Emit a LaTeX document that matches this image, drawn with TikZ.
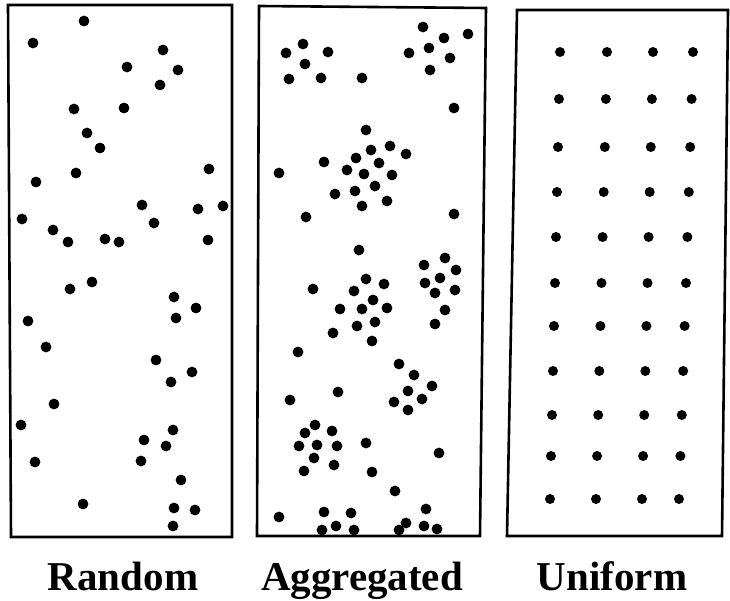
\documentclass[tikz,border=0pt]{standalone}
\usepackage{fontspec}
\setmainfont{Liberation Serif}
\usetikzlibrary{positioning}

\begin{document}
\begin{tikzpicture}[x=1pt,y=-1pt, every node/.style={font=\fontsize{41}{41}\selectfont\bfseries, inner sep=0pt}]
  \useasboundingbox (0,0) rectangle (730,601);

  % panels
  \draw[line width=2.6pt] (8,5) -- (232,5) -- (232,537) -- (11,537) -- cycle;
  \draw[line width=2.6pt] (259,6) -- (486,8) -- (480,536) -- (257,536) -- cycle;
  \draw[line width=2.6pt] (517,10) -- (728,10) -- (722,536) -- (507,536) -- cycle;

  % random
  \foreach \x/\y in {84/21,33/43,163/50,127/67,178/70,160/85,74/109,124/108,87/133,100/148,
    209/169,76/173,36/182,142/205,198/209,223/206,22/219,154/223,53/230,68/242,105/239,119/242,
    208/240,92/282,70/289,174/297,196/308,176/318,28/321,46/347,156/360,192/372,171/382,54/404,
    21/425,173/430,144/440,166/446,35/462,141/461,181/480,83/504,174/508,195/510,173/526}
    \fill (\x,\y) circle[radius=5.4pt];

  % aggregated
  \foreach \x/\y in {423/27,444/38,468/34,303/44,286/53,328/52,429/48,409/53,450/58,305/64,
    289/79,321/78,362/78,430/70,454/108,366/130,390/146,371/150,406/154,356/158,324/162,379/163,
    279/173,347/170,364/174,392/175,375/186,355/191,335/194,387/201,362/206,306/217,454/214,
    359/250,445/258,424/265,456/270,366/279,440/278,425/283,384/284,313/289,354/291,455/290,
    435/293,373/300,340/309,362/309,387/308,445/310,357/326,375/322,435/324,333/333,372/341,
    298/352,399/364,414/375,432/386,338/392,408/391,290/400,394/402,422/399,408/410,315/425,
    305/433,332/431,299/446,317/445,337/446,366/443,314/458,439/453,334/465,304/471,372/472,
    395/491,279/517,324/512,351/513,426/509,406/523,336/526,424/526,322/530,354/530,399/530,437/529}
    \fill (\x,\y) circle[radius=5.4pt];

  % uniform
  \foreach \y [count=\i from 0] in {52,99,147,192,237,283,326,371,415,456,499}
    \foreach \xt/\xb in {560/550,607/596,653/642,693/679}{
      \pgfmathsetmacro\xx{\xt+(\xb-\xt)*\i/10}
      \fill (\xx,\y) circle[radius=5pt];
    }

  \node[anchor=base] (random) at (123,590) {Random};
  \node[anchor=base] (aggregated) at (362,590) {Aggregated};
  \node[anchor=base] (uniform) at (612,590) {Uniform};
\end{tikzpicture}
\end{document}
